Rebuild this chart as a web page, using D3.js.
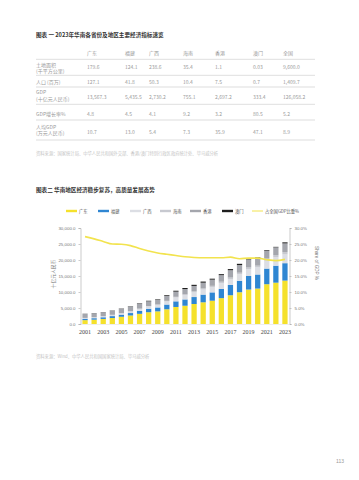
<!DOCTYPE html>
<html><head><meta charset="utf-8">
<script src="https://cdn.jsdelivr.net/npm/d3@7"></script>
<style>
html,body{margin:0;padding:0;background:#fff;}
svg{display:block;}
</style></head>
<body>
<svg id="c" width="359" height="480"></svg>
<script>
// ---- Table data ----
const tableCols = ["广东","福建","广西","海南","香港","澳门","全国"];
const tableRowLabels = [["土地面积","(千平方公里)"],["人口 (百万)"],["GDP","(十亿元人民币)"],["GDP增长率%"],["人均GDP","(万元人民币)"]];
const rowArea = ["179.6","124.1","238.6","35.4","1.1","0.03","9,600.0"];
const rowPop = ["127.1","41.8","50.3","10.4","7.5","0.7","1,409.7"];
const rowGDP = ["13,567.3","5,435.5","2,730.2","755.1","2,697.2","333.4","126,058.2"];
const rowGrowth = ["4.8","4.5","4.1","9.2","3.2","80.5","5.2"];
const rowPerCap = ["10.7","13.0","5.4","7.3","35.9","47.1","8.9"];

// ---- Chart data ----
const years = d3.range(2001, 2024);
const yearTicks = [2001,2003,2005,2007,2009,2011,2013,2015,2017,2019,2021,2023];
const seriesNames = ["广东","福建","广西","海南","香港","澳门"];
const guangdong = [1204,1350,1584,1864,2256,2659,3178,3680,3948,4601,5321,5707,6247,6781,7281,8085,8988,9928,10767,11076,12437,12912,13567];
const fujian = [425,468,523,605,657,761,925,1082,1224,1474,1756,1970,2176,2406,2598,2881,3230,3580,4239,4390,4881,5311,5436];
const guangxi = [223,246,273,325,398,475,583,703,776,957,1172,1304,1445,1567,1680,1832,1852,2035,2124,2216,2474,2630,2730];
const hainan = [55,62,69,80,90,105,125,150,165,206,252,286,318,350,370,405,446,483,531,553,648,682,755];
const hongkong = [1250,1230,1200,1250,1330,1400,1480,1480,1420,1550,1610,1660,1710,1800,1930,2070,2300,2400,2520,2390,2400,2420,2697];
const macau = [55,58,66,86,96,115,146,166,167,223,283,323,350,358,300,298,341,380,385,172,210,154,333];
const shareOfNational = [27.3,26.6,25.8,25.0,24.9,24.5,23.6,22.8,22.2,21.8,21.4,21.0,20.8,20.7,20.7,20.7,20.9,20.4,20.6,20.6,20.1,19.8,20.2];
const leftTicks = [0,5000,10000,15000,20000,25000,30000];
const rightTicks = [0,5,10,15,20,25,30];

const colors = ["#F5E12C","#2F86D2","#DCDEE4","#C7C9D0","#A4A6AD","#1E1E1E"];
const lineColor = "#F2E34E";
const cjk = "'Noto Sans CJK SC','Noto Sans',sans-serif";

const svg = d3.select("#c");

// ---- Table ----
svg.append("text").attr("x",36).attr("y",36.5).attr("font-family",cjk).attr("font-size",5.6)
  .attr("font-weight","bold").attr("fill","#333").text("图表 一 2023年华南各省份及地区主要经济指标速览");

const colX = [87,125,149,183,215,253,283];
const xCol = d3.scaleOrdinal().domain(tableCols).range(colX);
const tg = svg.append("g").attr("font-family",cjk).attr("font-size",5).attr("fill","#9a9a9a");
tg.selectAll("text.h").data(tableCols).join("text").attr("class","h")
  .attr("x",d=>xCol(d)).attr("y",55).text(d=>d);

const rowData = [rowArea,rowPop,rowGDP,rowGrowth,rowPerCap];
const rowLabelY = [[67,72.5],[83.5],[93.5,101],[116],[128.5,135]];
const rowValY = [69,83.5,99,116,133.5];
const lineY = [59.3,75.3,87,104.3,120,140];
svg.append("g").selectAll("line").data(lineY).join("line")
  .attr("x1",36).attr("x2",315).attr("y1",d=>d).attr("y2",d=>d)
  .attr("stroke","#c8c8c8").attr("stroke-width",0.6);
rowData.forEach((row,i)=>{
  tableRowLabels[i].forEach((lab,j)=>{
    tg.append("text").attr("x",36).attr("y",rowLabelY[i][j]).text(lab);
  });
  tg.selectAll(null).data(row).join("text")
    .attr("x",(d,k)=>xCol(tableCols[k])).attr("y",rowValY[i]).text(d=>d);
});
svg.append("text").attr("x",36).attr("y",155).attr("font-family",cjk).attr("font-size",4.3)
  .attr("fill","#c4c4c4").text("资料来源：国家统计局、中华人民共和国外交部、香港/澳门特别行政区政府统计处、毕马威分析");

// ---- Chart ----
svg.append("text").attr("x",36).attr("y",192).attr("font-family",cjk).attr("font-size",5.6)
  .attr("font-weight","bold").attr("fill","#333").text("图表二 华南地区经济稳步复苏，高质量发展态势");

const x = d3.scaleBand().domain(years).range([80.5,289.5]).paddingInner(0.42).paddingOuter(0.21);
const y = d3.scaleLinear().domain([0,30000]).range([324,228]);
const y2 = d3.scaleLinear().domain([0,30]).range([324,228]);

const tableRows = years.map((yr,i)=>({year:yr,"广东":guangdong[i],"福建":fujian[i],"广西":guangxi[i],"海南":hainan[i],"香港":hongkong[i],"澳门":macau[i]}));
const stack = d3.stack().keys(seriesNames)(tableRows);
const color = d3.scaleOrdinal().domain(seriesNames).range(colors);

svg.append("g").selectAll("g").data(stack).join("g").attr("fill",d=>color(d.key))
  .selectAll("rect").data(d=>d).join("rect")
  .attr("x",d=>x(d.data.year)).attr("width",x.bandwidth())
  .attr("y",d=>y(d[1])).attr("height",d=>y(d[0])-y(d[1]));

const line = d3.line().x((d,i)=>x(years[i])+x.bandwidth()/2).y(d=>y2(d)).curve(d3.curveMonotoneX);
svg.append("path").datum(shareOfNational).attr("d",line).attr("fill","none")
  .attr("stroke",lineColor).attr("stroke-width",1.6);

// axes
const axL = svg.append("g").attr("transform","translate(80.5,0)")
  .call(d3.axisLeft(y).tickValues(leftTicks).tickSize(2).tickFormat(d3.format(",.1f")));
const axR = svg.append("g").attr("transform","translate(289.5,0)")
  .call(d3.axisRight(y2).tickValues(rightTicks).tickSize(2).tickFormat(d=>d.toFixed(1)+"%"));
[axL,axR].forEach(a=>{
  a.select(".domain").attr("stroke","#aaa").attr("stroke-width",0.6);
  a.selectAll(".tick line").attr("stroke","#aaa").attr("stroke-width",0.6);
  a.selectAll("text").attr("font-family","'Liberation Sans',sans-serif").attr("font-size",4.4).attr("fill","#777");
});
const axB = svg.append("g").attr("transform","translate(0,324)")
  .call(d3.axisBottom(x).tickValues(yearTicks).tickSize(0).tickPadding(6));
axB.select(".domain").attr("stroke","#ddd").attr("stroke-width",0.5);
axB.selectAll("text").attr("font-family","'Liberation Serif',serif").attr("font-size",6).attr("fill","#444");

svg.append("text").attr("transform","translate(54.5,274) rotate(-90)").attr("text-anchor","middle")
  .attr("font-family",cjk).attr("font-size",4.8).attr("fill","#777").text("十亿元人民币");
svg.append("text").attr("transform","translate(315,263) rotate(90)").attr("text-anchor","middle")
  .attr("font-family","'Liberation Sans',sans-serif").attr("font-size",4.6).attr("fill","#777").text("Share of GDP %");

// legend
const legItems = seriesNames.map((n,i)=>({name:n,color:colors[i],type:"bar"})).concat([{name:"占全国GDP比重%",color:lineColor,type:"line"}]);
const legX = [66,98,130,160,190,222,252];
const lg = svg.append("g").selectAll("g").data(legItems).join("g")
  .attr("transform",(d,i)=>`translate(${legX[i]},211)`);
lg.filter(d=>d.type==="bar").append("rect").attr("x",0).attr("y",-1.2).attr("width",11).attr("height",2.4).attr("fill",d=>d.color);
lg.filter(d=>d.type==="line").append("line").attr("x1",0).attr("x2",11).attr("y1",0).attr("y2",0).attr("stroke",d=>d.color).attr("stroke-width",1);
lg.append("text").attr("x",13).attr("y",1.6).attr("font-family",cjk).attr("font-size",4.3).attr("fill","#555").text(d=>d.name);

svg.append("text").attr("x",36).attr("y",358).attr("font-family",cjk).attr("font-size",4.3)
  .attr("fill","#c4c4c4").text("资料来源：Wind、中华人民共和国国家统计局、毕马威分析");

svg.append("text").attr("x",336).attr("y",463).attr("font-family","'Liberation Sans',sans-serif").attr("font-size",5).attr("fill","#999").text("113");
</script>
</body></html>
